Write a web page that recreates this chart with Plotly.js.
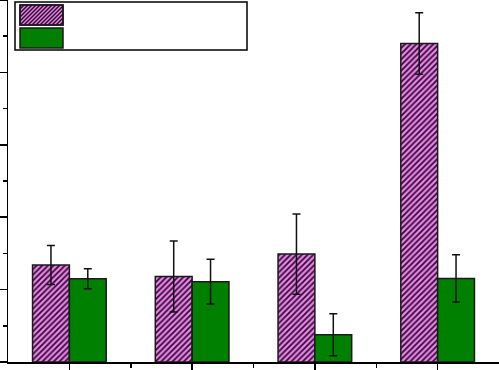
<!DOCTYPE html>
<html>
<head>
<meta charset="utf-8">
<script src="https://cdn.plot.ly/plotly-3.0.1.min.js"></script>
<style>html,body{margin:0;padding:0;background:#fff;}</style>
</head>
<body>
<div id="chart" style="width:499px;height:370px;"></div>
<script>
const categories = ["Group 1", "Group 2", "Group 3", "Group 4"];
const seriesAValues = [26.8, 23.6, 29.8, 88.0];
const seriesAErrors = [5.4, 9.8, 11.1, 8.5];
const seriesBValues = [23.0, 22.2, 7.5, 23.1];
const seriesBErrors = [2.75, 6.2, 5.8, 6.5];

const xIdx = categories.map((c, i) => i);

const traceA = {
  type: 'bar', x: xIdx, y: seriesAValues, name: 'Series A', text: categories, hoverinfo: 'text+y',
  textposition: 'none',
  marker: {color: '#ee82ee', line: {color: '#1a1a1a', width: 1.5},
           pattern: {shape: '/', bgcolor: '#ee82ee', fgcolor: '#2a0f2a', size: 4, solidity: 0.45}},
  error_y: {type: 'data', array: seriesAErrors, visible: true, color: '#111', thickness: 1.5, width: 4},
  showlegend: false
};
const traceB = {
  type: 'bar', x: xIdx, y: seriesBValues, name: 'Series B', text: categories, hoverinfo: 'text+y',
  textposition: 'none',
  marker: {color: '#008000', line: {color: '#1a1a1a', width: 1.5}},
  error_y: {type: 'data', array: seriesBErrors, visible: true, color: '#111', thickness: 1.5, width: 4},
  showlegend: false
};

// legend drawn as shapes (pixel-sized, anchored to top-left of the plot)
const shapes = [];
function pxRect(x0, y0, x1, y1, opts) {
  return Object.assign({type: 'rect', xref: 'paper', yref: 'paper', xsizemode: 'pixel', ysizemode: 'pixel',
    xanchor: 0, yanchor: 1, x0: x0, x1: x1, y0: -y0, y1: -y1}, opts);
}
shapes.push(pxRect(7, 2, 239, 50, {line: {color: '#000', width: 1.5}, fillcolor: '#fff', layer: 'above'}));
shapes.push(pxRect(12, 5, 55, 25, {line: {color: '#1a1a1a', width: 1.5}, fillcolor: '#ee82ee', layer: 'above'}));
// hatch lines in pink swatch
(function () {
  const x0 = 12, x1 = 55, y0 = 5, y1 = 25;
  let d = '';
  for (let s = x0 - (y1 - y0); s < x1; s += 4) {
    let ax = s, ay = y1, bx = s + (y1 - y0), by = y0;
    if (ax < x0) { ay -= (x0 - ax); ax = x0; }
    if (bx > x1) { by += (bx - x1); bx = x1; }
    if (ax >= bx) continue;
    d += 'M' + ax + ',' + (-ay) + 'L' + bx + ',' + (-by);
  }
  shapes.push({type: 'path', xref: 'paper', yref: 'paper', xsizemode: 'pixel', ysizemode: 'pixel',
    xanchor: 0, yanchor: 1, path: d, line: {color: '#2a0f2a', width: 1.5}, layer: 'above'});
})();
shapes.push(pxRect(12, 5, 55, 25, {line: {color: '#1a1a1a', width: 1.5}, fillcolor: 'rgba(0,0,0,0)', layer: 'above'}));
shapes.push(pxRect(12, 28, 55, 48, {line: {color: '#1a1a1a', width: 1.5}, fillcolor: '#008000', layer: 'above'}));

const layout = {
  width: 499, height: 370,
  margin: {l: 8, r: 0, t: 0, b: 8},
  paper_bgcolor: '#fff', plot_bgcolor: '#fff',
  barmode: 'group', bargap: 0.4, bargroupgap: 0,
  showlegend: false,
  xaxis: {range: [-0.5, 3.5], showgrid: false, zeroline: false, showline: true, linecolor: '#000', linewidth: 1.5,
          tickmode: 'array', tickvals: xIdx, ticks: 'outside', ticklen: 6, tickwidth: 1.5, tickcolor: '#000',
          showticklabels: false,
          minor: {tickmode: 'array', tickvals: [0.5, 1.5, 2.5], ticks: 'outside', ticklen: 4, tickwidth: 1.5, tickcolor: '#000', showgrid: false}},
  yaxis: {range: [0, 100], showgrid: false, zeroline: false, showline: true, linecolor: '#000', linewidth: 1.5,
          tickmode: 'linear', tick0: 0, dtick: 20, ticks: 'outside', ticklen: 8, tickwidth: 1.5, tickcolor: '#000',
          showticklabels: false,
          minor: {dtick: 10, ticks: 'outside', ticklen: 4, tickwidth: 1.5, tickcolor: '#000', showgrid: false}},
  shapes: shapes
};

Plotly.newPlot('chart', [traceA, traceB], layout, {displayModeBar: false, staticPlot: true});
</script>
</body>
</html>
